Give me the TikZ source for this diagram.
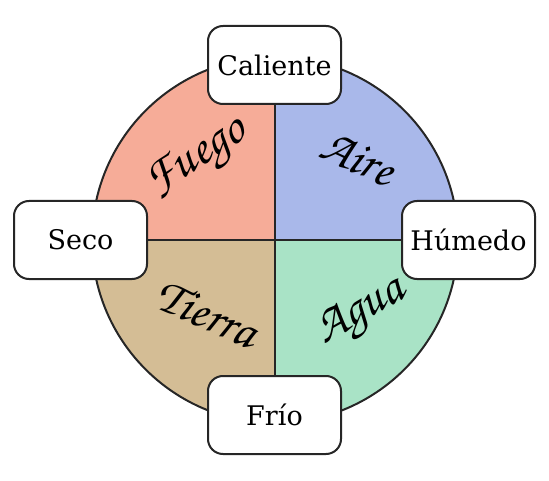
\documentclass[tikz,border=0pt]{standalone}
\usepackage{fontspec}
\setmainfont{DejaVu Serif}
\definecolor{fuego}{HTML}{F6AC98}
\definecolor{aire}{HTML}{A9B8EA}
\definecolor{tierra}{HTML}{D4BD95}
\definecolor{agua}{HTML}{A9E3C6}
\newcommand{\chanc}{\usefont{T1}{pzc}{m}{it}}
\pgfdeclarelayer{background}
\pgfsetlayers{background,main}
\begin{document}
\begin{tikzpicture}[x=1pt,y=1pt,
  quality/.style={draw=black!85,line width=2pt,fill=white,rounded corners=15pt,minimum width=133pt,minimum height=78pt,font=\fontsize{27}{30}\selectfont,inner sep=0pt},
  element/.style={font=\chanc\fontsize{50}{54}\selectfont,inner sep=0pt},
  divider/.style={line width=2pt,black!85}]
\useasboundingbox (0,0) rectangle (549,480);
\coordinate (c) at (275,240);
\node[quality] (cal) at (274.5,415) {Caliente};
\node[quality] (seco) at (80.5,240) {Seco};
\node[quality] (hum) at (468.5,240) {Húmedo};
\node[quality] (frio) at (274.5,65) {Frío};
\begin{pgfonlayer}{background}
\fill[fuego] (c) -- (92,240) arc[start angle=180,end angle=90,radius=183] -- cycle;
\fill[aire] (c) -- (275,423) arc[start angle=90,end angle=0,radius=183] -- cycle;
\fill[agua] (c) -- (458,240) arc[start angle=0,end angle=-90,radius=183] -- cycle;
\fill[tierra] (c) -- (275,57) arc[start angle=-90,end angle=-180,radius=183] -- cycle;
\draw[divider] (c) circle[radius=183];
\draw[divider] (seco.center) -- (hum.center);
\draw[divider] (cal.center) -- (frio.center);
\end{pgfonlayer}
\node[element,rotate=33] (fuego) at (198,320) {Fuego};
\node[element,rotate=-24] (aire) at (358,322) {Aire};
\node[element,rotate=-24] (tierra) at (207,167) {Tierra};
\node[element,rotate=30] (agua) at (362,166) {Agua};
\end{tikzpicture}
\end{document}
